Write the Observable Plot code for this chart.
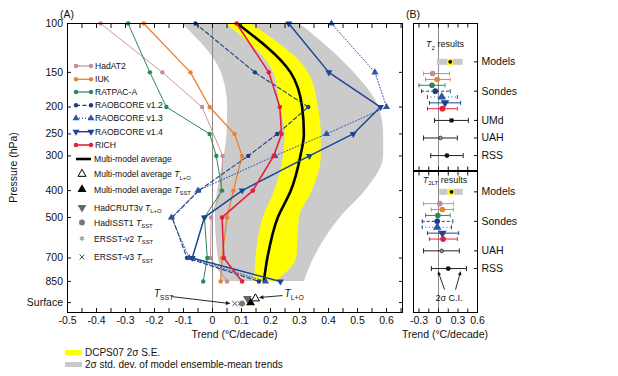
<!DOCTYPE html>
<html><head><meta charset="utf-8">
<script src="https://cdn.jsdelivr.net/npm/d3@7"></script>
<script src="https://cdn.jsdelivr.net/npm/@observablehq/plot@0.6"></script>
<style>
html,body{margin:0;padding:0;background:#fff;}
#root{position:relative;width:618px;height:376px;overflow:hidden;font-family:'Liberation Sans',Arial,Helvetica,sans-serif;color:#111;}
#root svg{position:absolute;overflow:visible;}
.blg{position:absolute;left:65px;font-size:10px;display:flex;align-items:center;white-space:nowrap;height:12px;}
.blg .sw{display:inline-block;width:17px;height:5px;margin-right:3px;}
</style></head>
<body><div id="root"></div>
<script>
// ---------------- DATA ----------------
const levels = [100, 150, 200, 250, 300, 400, 500, 700, 850];
const surfaceP = 1013;
const yTickValues = [100, 150, 200, 250, 300, 400, 500, 700, 850, 1013];
const xTicksA = [-0.5, -0.4, -0.3, -0.2, -0.1, 0, 0.1, 0.2, 0.3, 0.4, 0.5, 0.6];
const xMinorA = [-0.5,-0.45,-0.4,-0.35,-0.3,-0.25,-0.2,-0.15,-0.1,-0.05,0,0.05,0.1,0.15,0.2,0.25,0.3,0.35,0.4,0.45,0.5,0.55,0.6,0.65];
const xTicksB = [-0.3, 0, 0.3, 0.6];
const xMinorB = [-0.3, -0.15, 0, 0.15, 0.3, 0.45, 0.6];

const sondeNames = ["HadAT2", "IUK", "RATPAC-A", "RAOBCORE v1.2", "RAOBCORE v1.3", "RAOBCORE v1.4", "RICH"];
const hadat2Levels = [100, 150, 200, 300, 400, 500, 700, 850];
const hadat2 = [-0.386, -0.173, -0.036, 0.035, 0.03, -0.005, -0.007, 0.05];
const iuk    = [-0.237, -0.076, -0.01, 0.076, 0.102, 0.072, 0.05, 0.033, 0.028];
const ratpac = [-0.291, -0.216, -0.159, -0.01, 0.013, 0.033, -0.028, -0.018, -0.032];
const raob12 = [-0.059, 0.146, 0.33, 0.223, 0.123, -0.047, -0.139, -0.088, 0.16];
const raob13 = [0.41, 0.56, 0.6, 0.393, 0.215, -0.05, -0.142, -0.08, 0.183];
const raob14 = [0.263, 0.401, 0.579, 0.485, 0.334, 0.102, -0.028, -0.07, 0.234];
const rich   = [0.083, 0.194, 0.232, 0.238, 0.211, 0.139, 0.033, 0.039, 0.102];
const mma    = [0.085, 0.269, 0.309, 0.315, 0.303, 0.27, 0.225, 0.189, 0.177];
const seLo = [0.045, 0.21, 0.235, 0.25, 0.245, 0.215, 0.175, 0.15, 0.145];
const seHi = [0.13, 0.33, 0.365, 0.375, 0.375, 0.345, 0.3, 0.29, 0.22];
const sdLo = [-0.105, 0.03, 0.052, 0.05, 0.04, 0.018, 0.01, 0.02, 0.033];
const sdHi = [0.3, 0.487, 0.573, 0.59, 0.59, 0.528, 0.441, 0.35, 0.317];

const surfaceNames = ["ERSST-v3 SST", "ERSST-v2 SST", "HadISST1 SST", "Multi-model average SST", "HadCRUT3v L+O", "Multi-model average L+O"];
const surfaceTrends = [0.077, 0.095, 0.102, 0.131, 0.12, 0.148];

// Panel B: T2
const t2Model = 0.18, t2ModelSE = [0.14, 0.23], t2ModelSD = [-0.02, 0.38];
const t2Sonde   = [-0.09, -0.02, -0.1, -0.05, 0.05, 0.1, 0.06];
const t2SondeLo = [-0.23, -0.2, -0.3, -0.26, -0.17, -0.14, -0.17];
const t2SondeHi = [0.17, 0.18, 0.1, 0.18, 0.29, 0.34, 0.29];
const t2SatNames = ["UMd", "UAH", "RSS"];
const t2Sat   = [0.2, 0.03, 0.13];
const t2SatLo = [-0.06, -0.23, -0.12];
const t2SatHi = [0.46, 0.29, 0.38];
// Panel B: T2LT
const tltModel = 0.2, tltModelSE = [0.14, 0.25], tltModelSD = [0.02, 0.38];
const tltSonde   = [0.02, 0.06, -0.01, -0.02, -0.02, 0.06, 0.07];
const tltSondeLo = [-0.23, -0.11, -0.2, -0.25, -0.25, -0.17, -0.14];
const tltSondeHi = [0.23, 0.23, 0.18, 0.22, 0.2, 0.31, 0.29];
const tltSatNames = ["UAH", "RSS"];
const tltSat   = [0.05, 0.15];
const tltSatLo = [-0.23, -0.11];
const tltSatHi = [0.32, 0.43];
const ciTargets = [0.0, 0.35];

// row orders (point-scale domains; "_" entries are blank spacer rows)
const t2Rows  = ["_0","_1","_2","title","_4","_5","Models","_7", ...sondeNames, "_15","UMd","_17","_18","UAH","_20","_21","RSS","_23","_24"];
const tltRows = ["_0","title","_2","Models","_4", ...sondeNames, "_12","UAH","_14","_15","RSS","_17","_18","_19","_20","ci","_22","_23"];

// ---------------- STYLES ----------------
const FONT = "'Liberation Sans', Arial, Helvetica, sans-serif";
const sqrt3 = Math.sqrt(3);
const triDown = {draw(ctx, size) { const y = -Math.sqrt(size / (sqrt3 * 3)); ctx.moveTo(0, -y * 2); ctx.lineTo(-sqrt3 * y, y); ctx.lineTo(sqrt3 * y, y); ctx.closePath(); }};
const triUp = d3.symbolTriangle;
const hexagon = {draw(ctx, size) { const r = Math.sqrt(size / (1.5 * sqrt3)); for (let k = 0; k < 6; k++) { const a = Math.PI / 3 * k + Math.PI / 6; const x = r * Math.cos(a), y = r * Math.sin(a); if (k) ctx.lineTo(x, y); else ctx.moveTo(x, y); } ctx.closePath(); }};
const capBar = {draw(ctx, size) { const h = Math.sqrt(size / Math.PI); ctx.moveTo(0, -h); ctx.lineTo(0, h); }};
const styles = {
  "HadAT2":        {color: "#c48b97", width: 0.9, dash: null, bdash: null, sym: d3.symbolCircle, r: 2.2},
  "IUK":           {color: "#f07f2d", width: 1.3, dash: null, bdash: null, sym: d3.symbolCircle, r: 2.2},
  "RATPAC-A":      {color: "#2a8a55", width: 1.0, dash: null, bdash: null, sym: d3.symbolCircle, r: 2.2},
  "RAOBCORE v1.2": {color: "#1d3c85", width: 1.1, dash: "4,2.5", bdash: "3,2", sym: d3.symbolCircle, r: 2.2},
  "RAOBCORE v1.3": {color: "#2a56a5", width: 1.0, dash: "1,2", bdash: "1,2.5", sym: triUp, r: 2.6},
  "RAOBCORE v1.4": {color: "#1b4696", width: 1.5, dash: null, bdash: null, sym: triDown, r: 2.6},
  "RICH":          {color: "#e4213b", width: 1.6, dash: null, bdash: null, sym: d3.symbolCircle, r: 2.3}
};
const surfStyles = [
  {sym: d3.symbolTimes, fill: "none", stroke: "#555", r: 2.4, dy: 1},
  {sym: d3.symbolAsterisk, fill: "none", stroke: "#888", r: 2.4, dy: 1},
  {sym: hexagon, fill: "#777", stroke: "none", r: 3, dy: 1},
  {sym: triUp, fill: "#000", stroke: "none", r: 3.3, dy: 0},
  {sym: triDown, fill: "#666", stroke: "none", r: 3.2, dy: -4},
  {sym: triUp, fill: "#fff", stroke: "#000", r: 3, dy: -4}
];
const fmt1 = d => d === 0 ? "0" : (d < 0 ? "-" : "") + Math.abs(d).toFixed(1);
const blank = () => "";

const root = document.getElementById("root");

// ---------------- PANEL A ----------------
const seriesValues = [hadat2, iuk, ratpac, raob12, raob13, raob14, rich];
const obsRows = [];
sondeNames.forEach((n, k) => {
  const lv = k === 0 ? hadat2Levels : levels;
  seriesValues[k].forEach((v, i) => obsRows.push({name: n, p: lv[i], v}));
});
const bandRows = levels.map((p, i) => ({p, sdLo: sdLo[i], sdHi: sdHi[i], seLo: seLo[i], seHi: seHi[i], mma: mma[i]}));
const surfRows = surfaceNames.map((n, i) => ({name: n, v: surfaceTrends[i], p: surfaceP}));

const marksA = [
  Plot.areaX(bandRows, {y: "p", x1: "sdLo", x2: "sdHi", fill: "#cbcbcb", curve: "monotone-y"}),
  Plot.areaX(bandRows, {y: "p", x1: "seLo", x2: "seHi", fill: "#ffff00", curve: "monotone-y"}),
  Plot.ruleX([0], {stroke: "#8a8a8a", strokeWidth: 1}),
  Plot.line(bandRows, {y: "p", x: "mma", stroke: "#000", strokeWidth: 2.6, curve: "monotone-y"})
];
sondeNames.forEach(n => {
  const st = styles[n];
  const d = obsRows.filter(o => o.name === n);
  marksA.push(Plot.line(d, {x: "v", y: "p", stroke: st.color, strokeWidth: st.width, strokeDasharray: st.dash}));
  marksA.push(Plot.dot(d, {x: "v", y: "p", fill: st.color, stroke: "none", symbol: st.sym, r: st.r}));
});
surfRows.forEach((row, i) => {
  const s = surfStyles[i];
  marksA.push(Plot.dot([row], {x: "v", y: "p", symbol: s.sym, fill: s.fill, stroke: s.stroke, strokeWidth: 1, r: s.r, dy: s.dy}));
});
marksA.push(
  Plot.axisX({anchor: "bottom", ticks: xTicksA, tickSize: 0, tickPadding: 4, tickFormat: fmt1, label: null, fontSize: "10.5px"}),
  Plot.axisX({anchor: "bottom", ticks: xMinorA, tickSize: -4, tickFormat: blank, label: null}),
  Plot.axisX({anchor: "top", ticks: xMinorA, tickSize: -4, tickFormat: blank, label: null}),
  Plot.axisY({anchor: "left", ticks: yTickValues, tickSize: -4, tickPadding: 8.5, tickFormat: d => d === surfaceP ? "Surface" : String(d), label: null, fontSize: "10.5px"}),
  Plot.axisY({anchor: "right", ticks: yTickValues, tickSize: -4, tickFormat: blank, label: null}),
  Plot.frame({stroke: "#000"})
);

const plotA = Plot.plot({
  width: 410, height: 345, marginTop: 23, marginBottom: 33, marginLeft: 67, marginRight: 8,
  style: {fontFamily: FONT, fontSize: "10.5px", color: "#111", background: "transparent", overflow: "visible"},
  x: {domain: [-0.5, 0.655]},
  y: {type: "log", domain: [100, 1100], reverse: true},
  marks: marksA
});
plotA.style.left = "0px"; plotA.style.top = "0px";
root.appendChild(plotA);

// helpers
function richText(sel, x, y, parts, size, anchor = "start") {
  const t = sel.append("text").attr("x", x).attr("y", y + size * 0.35)
    .attr("font-size", size).attr("text-anchor", anchor).attr("fill", "#111").attr("font-family", FONT);
  let shifted = false;
  for (const p of parts) {
    const ts = t.append("tspan");
    if (typeof p === "string") { ts.text(p); if (shifted) { ts.attr("dy", -size * 0.3); shifted = false; } }
    else if (p.it) { ts.attr("font-style", "italic").text(p.it); if (shifted) { ts.attr("dy", -size * 0.3); shifted = false; } }
    else if (p.sub) { ts.attr("font-size", size * 0.68).attr("dy", size * 0.3).text(p.sub); shifted = true; }
  }
  return t;
}
function arrow(sel, x1, y1, x2, y2, head = 4) {
  const a = Math.atan2(y2 - y1, x2 - x1);
  sel.append("line").attr("x1", x1).attr("y1", y1).attr("x2", x2 - head * 0.8 * Math.cos(a)).attr("y2", y2 - head * 0.8 * Math.sin(a))
    .attr("stroke", "#111").attr("stroke-width", 0.9);
  const w = head * 0.45;
  const pts = [[x2, y2],
    [x2 - head * Math.cos(a) + w * Math.sin(a), y2 - head * Math.sin(a) - w * Math.cos(a)],
    [x2 - head * Math.cos(a) - w * Math.sin(a), y2 - head * Math.sin(a) + w * Math.cos(a)]];
  sel.append("polygon").attr("points", pts.map(q => q.join(",")).join(" ")).attr("fill", "#111");
}

// Panel A annotations
{
  const sx = plotA.scale("x").apply, sy = plotA.scale("y").apply;
  const g = d3.select(plotA).append("g");
  g.append("text").attr("x", 67).attr("y", 18).attr("font-size", 10.5).attr("font-family", FONT).attr("fill", "#111").text("(A)");
  g.append("text").attr("transform", `translate(13,${(23 + 312) / 2}) rotate(-90)`).attr("text-anchor", "middle")
    .attr("dy", "0.35em").attr("font-size", 10.5).attr("font-family", FONT).attr("fill", "#111").text("Pressure (hPa)");
  g.append("text").attr("x", (67 + 402) / 2).attr("y", 334).attr("dy", "0.35em").attr("text-anchor", "middle")
    .attr("font-size", 10.5).attr("font-family", FONT).attr("fill", "#111").text("Trend (°C/decade)");
  const ys = sy(surfaceP);
  richText(g, sx(-0.2), ys - 9, [{it: "T"}, {sub: "SST"}], 10);
  arrow(g, sx(-0.14), ys - 5.5, sx(surfaceTrends[0]) - 4, ys + 1.5, 4.5);
  richText(g, sx(0.25), ys - 9, [{it: "T"}, {sub: "L+O"}], 10);
  arrow(g, sx(0.243), ys - 6.5, sx(surfaceTrends[5]) + 4, ys - 4.5, 4.5);

  // legend
  const L = g.append("g").attr("font-family", FONT);
  const rowsY = [66, 79.3, 92, 105.3, 118.3, 131.7, 145, 159, 174, 189.5, 207.5, 222.5, 238.5, 257];
  const LX0 = 76, LX1 = 91, TX = 95, fs = 8.6;
  sondeNames.forEach((n, i) => {
    const st = styles[n], y = rowsY[i];
    L.append("line").attr("x1", LX0).attr("x2", LX1).attr("y1", y).attr("y2", y).attr("stroke", st.color)
      .attr("stroke-width", Math.max(1.2, st.width)).attr("stroke-dasharray", st.dash);
    for (const xx of [LX0, LX1]) L.append("path").attr("transform", `translate(${xx},${y})`)
      .attr("d", d3.symbol(st.sym, st.r * st.r * Math.PI)()).attr("fill", st.color);
    richText(L, TX, y, [n], fs);
  });
  L.append("line").attr("x1", LX0).attr("x2", LX1).attr("y1", rowsY[7]).attr("y2", rowsY[7]).attr("stroke", "#000").attr("stroke-width", 2.6);
  richText(L, TX - 1, rowsY[7], ["Multi-model average"], fs);
  const legSurf = [
    [5, ["Multi-model average ", {it: "T"}, {sub: "L+O"}]],
    [3, ["Multi-model average ", {it: "T"}, {sub: "SST"}]],
    [4, ["HadCRUT3v ", {it: "T"}, {sub: "L+O"}]],
    [2, ["HadISST1 ", {it: "T"}, {sub: "SST"}]],
    [1, ["ERSST-v2 ", {it: "T"}, {sub: "SST"}]],
    [0, ["ERSST-v3 ", {it: "T"}, {sub: "SST"}]]
  ];
  legSurf.forEach(([si, parts], k) => {
    const s = surfStyles[si], y = rowsY[8 + k];
    L.append("path").attr("transform", `translate(82,${y})`).attr("d", d3.symbol(s.sym, s.r * s.r * Math.PI)())
      .attr("fill", s.fill).attr("stroke", s.stroke).attr("stroke-width", 1);
    richText(L, TX - 1, y, parts, fs);
  });
}

// ---------------- PANEL B ----------------
function makeB(cfg) {
  const marks = [Plot.ruleX([0], {stroke: "#8a8a8a"})];
  const model = [{row: "Models", v: cfg.model, seLo: cfg.se[0], seHi: cfg.se[1], sdLo: cfg.sd[0], sdHi: cfg.sd[1]}];
  marks.push(
    Plot.ruleY(model, {y: "row", x1: "sdLo", x2: "sdHi", stroke: "#c9c9c9", strokeWidth: 6}),
    Plot.ruleY(model, {y: "row", x1: "seLo", x2: "seHi", stroke: "#ffff00", strokeWidth: 6}),
    Plot.dot(model, {y: "row", x: "v", fill: "#000", r: 1.9})
  );
  sondeNames.forEach((n, i) => {
    const st = styles[n];
    const d = [{row: n, v: cfg.sonde[i], lo: cfg.sondeLo[i], hi: cfg.sondeHi[i]}];
    marks.push(
      Plot.ruleY(d, {y: "row", x1: "lo", x2: "hi", stroke: st.color, strokeWidth: 1, strokeDasharray: st.bdash}),
      Plot.dot(d, {x: "lo", y: "row", symbol: capBar, fill: "none", stroke: st.color, strokeWidth: 1, r: 2}),
      Plot.dot(d, {x: "hi", y: "row", symbol: capBar, fill: "none", stroke: st.color, strokeWidth: 1, r: 2}),
      Plot.dot(d, {x: "v", y: "row", fill: st.color, stroke: "none", symbol: st.sym, r: st.r + 0.6})
    );
  });
  const satSym = {UMd: {sym: d3.symbolSquare, fill: "#111", stroke: "none", r: 2.3}, UAH: {sym: d3.symbolCircle, fill: "#999", stroke: "#222", r: 1.8}, RSS: {sym: d3.symbolCircle, fill: "#111", stroke: "none", r: 2.4}};
  cfg.satNames.forEach((n, i) => {
    const d = [{row: n, v: cfg.sat[i], lo: cfg.satLo[i], hi: cfg.satHi[i]}];
    const s = satSym[n];
    marks.push(
      Plot.ruleY(d, {y: "row", x1: "lo", x2: "hi", stroke: "#222", strokeWidth: 1}),
      Plot.dot(d, {x: "lo", y: "row", symbol: capBar, fill: "none", stroke: "#222", strokeWidth: 1, r: 2.5}),
      Plot.dot(d, {x: "hi", y: "row", symbol: capBar, fill: "none", stroke: "#222", strokeWidth: 1, r: 2.5}),
      Plot.dot(d, {x: "v", y: "row", symbol: s.sym, fill: s.fill, stroke: s.stroke, strokeWidth: 0.8, r: s.r})
    );
  });
  marks.push(
    Plot.axisX({anchor: "top", ticks: xMinorB, tickSize: -3.5, tickFormat: blank, label: null}),
    Plot.axisX({anchor: "bottom", ticks: xMinorB, tickSize: -3.5, tickFormat: blank, label: null}),
    Plot.axisY({anchor: "right", ticks: ["Models", "RAOBCORE v1.2", ...cfg.satNames], tickSize: -4, tickPadding: 8,
      tickFormat: d => d === "RAOBCORE v1.2" ? "Sondes" : d, label: null, fontSize: "10.5px", textAnchor: "start"}),
    Plot.frame({stroke: "#000"})
  );
  if (cfg.xLabels) marks.push(Plot.axisX({anchor: "bottom", ticks: xTicksB, tickSize: 0, tickPadding: 4, tickFormat: fmt1, label: null, fontSize: "10.5px"}));
  return Plot.plot({
    width: 218, height: cfg.height, marginTop: cfg.mt, marginBottom: cfg.mb, marginLeft: 13, marginRight: 141,
    style: {fontFamily: FONT, fontSize: "10.5px", color: "#111", background: "transparent", overflow: "visible"},
    x: {domain: [-0.385, 0.6]},
    y: {type: "point", domain: cfg.rows, padding: cfg.padding, round: false},
    marks
  });
}

const plotB1 = makeB({rows: t2Rows, padding: 0.55, height: 171, mt: 23, mb: 1, model: t2Model, se: t2ModelSE, sd: t2ModelSD,
  sonde: t2Sonde, sondeLo: t2SondeLo, sondeHi: t2SondeHi, satNames: t2SatNames, sat: t2Sat, satLo: t2SatLo, satHi: t2SatHi, xLabels: false});
plotB1.style.left = "400px"; plotB1.style.top = "0px";
root.appendChild(plotB1);

const plotB2 = makeB({rows: tltRows, padding: 0.45, height: 176, mt: 2, mb: 33, model: tltModel, se: tltModelSE, sd: tltModelSD,
  sonde: tltSonde, sondeLo: tltSondeLo, sondeHi: tltSondeHi, satNames: tltSatNames, sat: tltSat, satLo: tltSatLo, satHi: tltSatHi, xLabels: true});
plotB2.style.left = "400px"; plotB2.style.top = "169px";
root.appendChild(plotB2);

{
  const g1 = d3.select(plotB1).append("g");
  const sy1 = plotB1.scale("y").apply;
  g1.append("text").attr("x", 13).attr("y", 18).attr("font-size", 10.5).attr("font-family", FONT).attr("fill", "#111").text("(B)");
  richText(g1, 45, sy1("title"), [{it: "T"}, {sub: "2"}, " results"], 9, "middle");

  const g2 = d3.select(plotB2).append("g");
  const sx2 = plotB2.scale("x").apply, sy2 = plotB2.scale("y").apply;
  g2.append("line").attr("x1", 13).attr("x2", 77).attr("y1", 2).attr("y2", 2).attr("stroke", "#000").attr("stroke-width", 1.5);
  richText(g2, 45, sy2("title"), [{it: "T"}, {sub: "2LT"}, " results"], 9, "middle");
  const yci = sy2("ci");
  richText(g2, sx2(0.17), yci, ["2σ C.I."], 9, "middle");
  arrow(g2, sx2(0.1), yci - 8, sx2(ciTargets[0]), sy2("RSS") + 3, 4);
  arrow(g2, sx2(0.27), yci - 8, sx2(ciTargets[1]), sy2("RSS") + 3, 4);
  g2.append("text").attr("x", 45).attr("y", 165).attr("dy", "0.35em").attr("text-anchor", "middle")
    .attr("font-size", 10.5).attr("font-family", FONT).attr("fill", "#111").text("Trend (°C/decade)");
}

// bottom legend
const bl = [["#ffff00", "DCPS07 2σ S.E.", 346], ["#c9c9c9", "2σ std. dev. of model ensemble-mean trends", 358]];
bl.forEach(([c, t, top]) => {
  const div = document.createElement("div");
  div.className = "blg"; div.style.top = top + "px";
  div.innerHTML = `<span class="sw" style="background:${c}"></span><span>${t}</span>`;
  root.appendChild(div);
});
</script></body></html>
